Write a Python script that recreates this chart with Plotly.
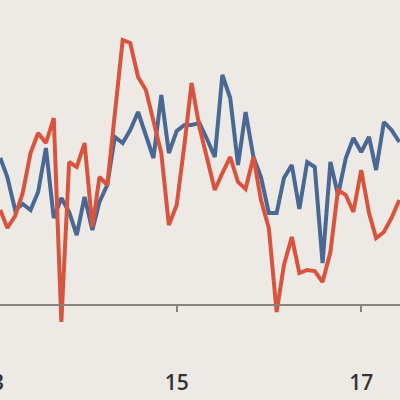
import pandas as pd
import plotly.graph_objects as go

# monthly series, Feb 2013 .. Jun 2017
months = pd.date_range("2013-02-01", "2017-06-01", freq="MS")

blue_vals = [14.7, 12.8, 9.5, 10.1, 9.5, 11.3, 15.7, 8.7, 10.7, 9.3, 7.0, 10.8,
             7.5, 10.3, 12.0, 16.8, 16.2, 17.5, 19.3, 17.0, 14.7, 21.0, 15.2,
             17.4, 18.0, 18.0, 18.2, 16.6, 14.8, 23.0, 20.7, 14.0, 19.3, 14.8,
             12.8, 9.2, 9.2, 12.7, 14.0, 9.6, 14.3, 13.8, 4.2, 14.3, 11.0, 14.7,
             16.7, 15.3, 16.8, 13.5, 18.3, 17.5, 16.3]

red_vals = [9.5, 7.7, 8.9, 11.2, 15.2, 17.2, 16.2, 18.7, -1.7, 14.3, 13.8, 16.2,
            7.8, 12.8, 12.0, 19.2, 26.5, 26.2, 22.8, 21.5, 18.2, 15.2, 8.0,
            10.0, 16.1, 22.2, 17.8, 14.5, 11.5, 13.2, 14.8, 12.3, 11.6, 14.8,
            10.5, 7.7, -0.7, 4.0, 6.8, 3.2, 3.5, 3.4, 2.3, 5.3, 11.5, 11.0, 9.3,
            13.5, 9.2, 6.7, 7.3, 8.7, 10.5]

tick_dates = ["2015-01-01", "2017-01-01"]
tick_text = ["15", "17"]
offscreen_label = "13"

bg = "#EDEAE5"
axis_col = "#8A827C"
label_font = dict(family="Open Sans", size=21, color="#333333", weight=600)

fig = go.Figure()
fig.add_trace(go.Scatter(x=months, y=blue_vals, mode="lines",
                         line=dict(color="#4A6894", width=4)))
fig.add_trace(go.Scatter(x=months, y=red_vals, mode="lines",
                         line=dict(color="#D9543F", width=4)))

fig.update_layout(width=400, height=400, margin=dict(l=0, r=0, t=0, b=0),
                  paper_bgcolor=bg, plot_bgcolor=bg, showlegend=False)
fig.update_xaxes(range=["2013-01-31", "2017-06-03 17:00"], showgrid=False,
                 zeroline=False, anchor="free", position=0.2375,
                 automargin=False,
                 showline=True, linecolor=axis_col, linewidth=1.5,
                 ticks="outside", ticklen=6, tickwidth=1.5, tickcolor=axis_col,
                 tickvals=tick_dates, ticktext=tick_text, tickfont=label_font,
                 ticklabelstandoff=53)
fig.update_yaxes(range=[-9.5, 30.5], visible=False, automargin=False)

# the 2013 label sits just past the left edge, only its "3" shows
fig.add_annotation(text=offscreen_label, xref="paper", yref="paper",
                   x=-0.02, y=0.045, xanchor="center", yanchor="middle",
                   showarrow=False, font=label_font)

# drop the page's default body margin so the figure sits at the corner
fig.write_html("out.html", config={"displayModeBar": False},
               post_script="document.body.style.margin='0';"
                           "document.body.style.background='%s';" % bg)
